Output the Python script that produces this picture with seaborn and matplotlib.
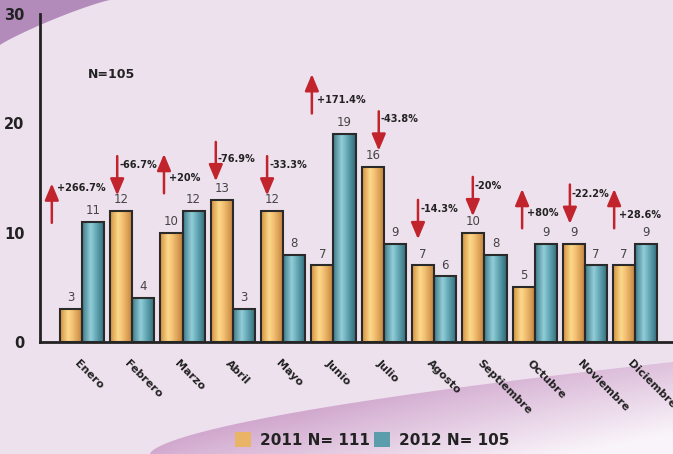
"""
Monthly cases 2011 vs 2012 - grouped bar chart with change arrows
"""
import numpy as np
import pandas as pd
import matplotlib
matplotlib.use("Agg")
import matplotlib.pyplot as plt
from matplotlib.colors import LinearSegmentedColormap
from matplotlib.patches import Patch, Polygon
import seaborn as sns

# --- data ---
months = ["Enero", "Febrero", "Marzo", "Abril", "Mayo", "Junio", "Julio",
          "Agosto", "Septiembre", "Octubre", "Noviembre", "Diciembre"]
values_2011 = [3, 12, 10, 13, 12, 7, 16, 7, 10, 5, 9, 7]
values_2012 = [11, 4, 12, 3, 8, 19, 9, 6, 8, 9, 7, 9]
change_labels = ["+266.7%", "-66.7%", "+20%", "-76.9%", "-33.3%", "+171.4%",
                 "-43.8%", "-14.3%", "-20%", "+80%", "-22.2%", "+28.6%"]
series_names = ["2011 N= 111", "2012 N= 105"]
y_ticks = [0, 10, 20, 30]

# annotation placement (arrow x offset from month centre, arrow tail, label height)
arrow_dx = [-0.60, -0.30, -0.37, -0.34, -0.32, -0.43, -0.10, -0.32, -0.23, -0.25, -0.30, -0.42]
arrow_tail = [10.9, 17.0, 13.6, 18.3, 17.0, 20.9, 21.1, 13.0, 15.1, 10.4, 14.4, 10.4]
label_y = [14.1, 16.2, 15.0, 16.7, 16.2, 22.1, 20.4, 12.2, 14.3, 11.8, 13.5, 11.6]
arrow_len = 3.6

BG = "#eee1ee"
RED = "#c1242c"
DARK = "#222222"

df = pd.DataFrame({
    "month": months * 2,
    "count": values_2011 + values_2012,
    "year": [series_names[0]] * 12 + [series_names[1]] * 12,
})

gold = LinearSegmentedColormap.from_list(
    "gold", [(0, "#d3913f"), (0.35, "#fcd98b"), (0.55, "#f3c173"), (1, "#c07f3a")])
teal = LinearSegmentedColormap.from_list(
    "teal", [(0, "#3f7b89"), (0.38, "#92cdd8"), (0.58, "#6cafbc"), (1, "#2f6977")])

fig = plt.figure(figsize=(6.73, 4.54), dpi=100, facecolor=BG)

# --- background decoration ---
bg = fig.add_axes([0, 0, 1, 1], zorder=-5)
bg.set_xlim(0, 673)
bg.set_ylim(454, 0)
bg.axis("off")
t = np.linspace(0, 1, 50)
cx = 110 * t ** 1.1
cy = 45 * (1 - t) ** 1.15
bg.add_patch(Polygon(np.column_stack([np.r_[0, cx], np.r_[0, cy]]),
                     closed=True, color="#b28bbb", lw=0))

# bottom swoosh with gradient
xs = np.linspace(0, 673, 300)
def curve(x):
    return 454 - 92 * np.clip((x - 150) / 523, 0, None) ** 0.62
swoosh = Polygon(np.column_stack([np.r_[xs[xs >= 150], 673, 150],
                                  np.r_[curve(xs[xs >= 150]), 454, 454]]),
                 closed=True, facecolor="none", lw=0)
bg.add_patch(swoosh)
gx, gy = np.meshgrid(np.arange(673), np.arange(454))
depth = np.clip((gy - curve(gx)) / 80, 0, 1)
fade = np.clip(depth * 0.75 + np.clip((gx - 300) / 450, 0, 1) * 0.4, 0, 1)
c0 = np.array([0.82, 0.66, 0.81])
c1 = np.array([0.98, 0.96, 0.98])
img = c0[None, None, :] * (1 - fade[..., None]) + c1[None, None, :] * fade[..., None]
im = bg.imshow(img, extent=[0, 673, 454, 0], aspect="auto", zorder=1)
im.set_clip_path(swoosh)

# --- main chart ---
ax = fig.add_axes([40 / 673, 1 - 342 / 454, 1 - 40 / 673, 328 / 454])
ax.patch.set_alpha(0)
sns.barplot(data=df, x="month", y="count", hue="year", order=months,
            hue_order=series_names, palette=["#eab466", "#5c9dab"],
            width=0.88, edgecolor="#2a2a2a", linewidth=1.5, legend=False, ax=ax)

bars = list(ax.patches)
for i, patch in enumerate(bars):
    cmap = gold if i < len(months) else teal
    x0, y0 = patch.get_x(), patch.get_y()
    w, h = patch.get_width(), patch.get_height()
    grad = ax.imshow(np.linspace(0, 1, 64).reshape(1, -1), cmap=cmap,
                     extent=[x0, x0 + w, y0, y0 + h], aspect="auto", zorder=2)
    grad.set_clip_path(patch)
    patch.set_facecolor("none")
    patch.set_zorder(3)
    ax.annotate(f"{int(h)}", (x0 + w / 2, y0 + h), xytext=(0, 3.5),
                textcoords="offset points", ha="center", va="bottom",
                fontsize=8.5, color="#444444", zorder=4)

# change arrows
for i, lab in enumerate(change_labels):
    ax_x = i + arrow_dx[i]
    up = lab.startswith("+")
    tail = arrow_tail[i]
    tip = tail + arrow_len if up else tail - arrow_len
    ax.annotate("", xy=(ax_x, tip), xytext=(ax_x, tail),
                arrowprops=dict(arrowstyle="-|>,head_length=1.0,head_width=0.42",
                                color=RED, lw=1.8, shrinkA=0, shrinkB=0,
                                mutation_scale=10), zorder=5)
    ax.text(ax_x + (0.1 if up else 0.04), label_y[i], lab, fontsize=7,
            fontweight="bold", color=DARK, ha="left", va="center", zorder=5)

ax.text(0.12, 24.5, "N=105", fontsize=9, fontweight="bold", color=DARK,
        ha="left", va="center")

# month labels
ax.set_xticks(range(len(months)))
ax.set_xticklabels([])
for i, m in enumerate(months):
    ax.text(i - 0.12, -1.8, m, rotation=-45, rotation_mode="anchor",
            ha="left", va="center", fontsize=8, fontweight="bold",
            color=DARK, clip_on=False)

ax.set_xlim(-0.835, 11.75)
ax.set_ylim(0, 30)
ax.set_yticks(y_ticks)
ax.set_yticklabels([str(v) for v in y_ticks], fontsize=10.5,
                   fontweight="bold", color=DARK)
ax.tick_params(axis="both", length=0)
ax.tick_params(axis="y", pad=11)
ax.set_xlabel("")
ax.set_ylabel("")
for side in ["top", "right"]:
    ax.spines[side].set_visible(False)
for side in ["left", "bottom"]:
    ax.spines[side].set_color(DARK)
    ax.spines[side].set_linewidth(2)

handles = [Patch(facecolor="#eab466", edgecolor="none"),
           Patch(facecolor="#5c9dab", edgecolor="none")]
fig.legend(handles, series_names, loc="center", bbox_to_anchor=(372 / 673, 1 - 440 / 454),
           ncol=2, frameon=False, prop={"weight": "bold", "size": 11},
           handlelength=1.05, handleheight=1.05, handletextpad=0.6,
           columnspacing=0.25, labelcolor=DARK)

fig.savefig("out.png", dpi=100, facecolor=BG)
